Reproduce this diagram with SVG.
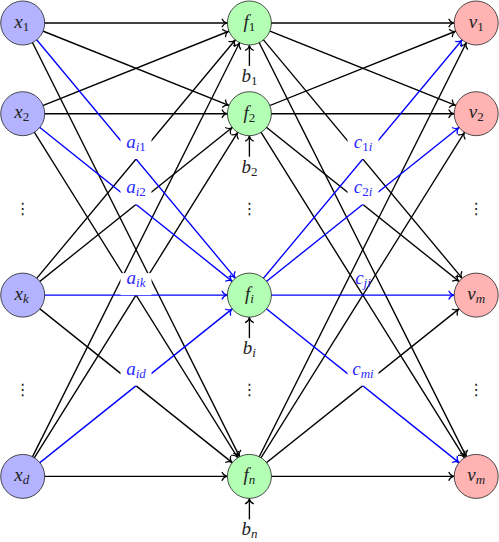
<svg xmlns="http://www.w3.org/2000/svg" width="499" height="542" viewBox="0 0 499 542" font-family="Liberation Serif, serif">
<style>
.e{stroke:#000;stroke-width:1.35;fill:none;marker-end:url(#ak)}
.eb{stroke:#0000ff;stroke-width:1.35;fill:none;marker-end:url(#ab)}
.box{fill:#fff;stroke:none}
.nx{fill:#b3b3ff;stroke:#222;stroke-width:0.8}
.nf{fill:#b3ffb3;stroke:#222;stroke-width:0.8}
.nv{fill:#ffb3b3;stroke:#222;stroke-width:0.8}
text{font-family:'Liberation Serif',serif;font-size:19px;font-style:italic;fill:#222;text-anchor:middle}
.bl{fill:#2a2aff}
.s{font-size:13px}
.n{font-style:normal}
.dots{font-family:'DejaVu Sans',sans-serif;font-style:normal;font-size:16px;fill:#222}
</style>
<defs>
<marker id="ak" markerUnits="userSpaceOnUse" markerWidth="60" markerHeight="20" viewBox="-40 -10 60 20" refX="0" refY="0" orient="auto" overflow="visible">
<path d="M-27.5,-4.3 C-26.3,-1.7 -24.2,-0.3 -22.5,0 C-24.2,0.3 -26.3,1.7 -27.5,4.3" fill="none" stroke="#000" stroke-width="1.2"/>
</marker>
<marker id="ab" markerUnits="userSpaceOnUse" markerWidth="60" markerHeight="20" viewBox="-40 -10 60 20" refX="0" refY="0" orient="auto" overflow="visible">
<path d="M-27.5,-4.3 C-26.3,-1.7 -24.2,-0.3 -22.5,0 C-24.2,0.3 -26.3,1.7 -27.5,4.3" fill="none" stroke="#0000ff" stroke-width="1.2"/>
</marker>
</defs>
<g id="connectors">
<path class="e" d="M22.7,23 L249.4,23"/>
<path class="e" d="M22.7,23 L249.4,113.7"/>
<path class="e" d="M22.7,23 L249.4,476.4"/>
<path class="e" d="M22.7,113.7 L249.4,23"/>
<path class="e" d="M22.7,113.7 L249.4,113.7"/>
<path class="e" d="M22.7,113.7 L249.4,476.4"/>
<path class="e" d="M22.7,295.1 L249.4,23"/>
<path class="e" d="M22.7,295.1 L249.4,113.7"/>
<path class="e" d="M22.7,295.1 L249.4,476.4"/>
<path class="e" d="M22.7,476.4 L249.4,23"/>
<path class="e" d="M22.7,476.4 L249.4,113.7"/>
<path class="e" d="M22.7,476.4 L249.4,476.4"/>
<path class="e" d="M249.4,23 L476.2,23"/>
<path class="e" d="M249.4,23 L476.2,113.7"/>
<path class="e" d="M249.4,23 L476.2,295.1"/>
<path class="e" d="M249.4,23 L476.2,476.4"/>
<path class="e" d="M249.4,113.7 L476.2,23"/>
<path class="e" d="M249.4,113.7 L476.2,113.7"/>
<path class="e" d="M249.4,113.7 L476.2,295.1"/>
<path class="e" d="M249.4,113.7 L476.2,476.4"/>
<path class="e" d="M249.4,476.4 L476.2,23"/>
<path class="e" d="M249.4,476.4 L476.2,113.7"/>
<path class="e" d="M249.4,476.4 L476.2,295.1"/>
<path class="e" d="M249.4,476.4 L476.2,476.4"/>
<path class="eb" d="M22.7,23 L249.4,295.1"/>
<path class="eb" d="M22.7,113.7 L249.4,295.1"/>
<path class="eb" d="M22.7,295.1 L249.4,295.1"/>
<path class="eb" d="M22.7,476.4 L249.4,295.1"/>
<path class="eb" d="M249.4,295.1 L476.2,23"/>
<path class="eb" d="M249.4,295.1 L476.2,113.7"/>
<path class="eb" d="M249.4,295.1 L476.2,295.1"/>
<path class="eb" d="M249.4,295.1 L476.2,476.4"/>
<path class="e" d="M249.4,66 L249.4,23"/>
<path class="e" d="M249.4,156.7 L249.4,113.7"/>
<path class="e" d="M249.4,338.1 L249.4,295.1"/>
<path class="e" d="M249.4,519.4 L249.4,476.4"/>
</g>
<g id="edge-labels">
<g id="l-ai1"><rect class="box" x="120.5" y="137" width="31" height="22"/><text class="bl" x="136" y="148">a<tspan class="s" dy="3">i</tspan><tspan class="s n">1</tspan></text></g>
<g id="l-ai2"><rect class="box" x="120.5" y="182.4" width="31" height="22"/><text class="bl" x="136" y="193.4">a<tspan class="s" dy="3">i</tspan><tspan class="s n">2</tspan></text></g>
<g id="l-aik"><rect class="box" x="120.5" y="273.1" width="31" height="22"/><text class="bl" x="136" y="284.1">a<tspan class="s" dy="3">ik</tspan></text></g>
<g id="l-aid"><rect class="box" x="120.5" y="363.7" width="31" height="22"/><text class="bl" x="136" y="374.7">a<tspan class="s" dy="3">id</tspan></text></g>
<g id="l-c1i"><rect class="box" x="347.5" y="137" width="31" height="22"/><text class="bl" x="363" y="148">c<tspan class="s n" dy="3">1</tspan><tspan class="s">i</tspan></text></g>
<g id="l-c2i"><rect class="box" x="347.5" y="182.4" width="31" height="22"/><text class="bl" x="363" y="193.4">c<tspan class="s n" dy="3">2</tspan><tspan class="s">i</tspan></text></g>
<g id="l-cji"><text class="bl" x="363" y="284.1">c<tspan class="s" dy="3">ji</tspan></text></g>
<g id="l-cmi"><rect class="box" x="347.5" y="363.7" width="31" height="22"/><text class="bl" x="363" y="374.7">c<tspan class="s" dy="3">mi</tspan></text></g>
</g>
<g id="bias">
<text x="249.4" y="82">b<tspan class="s n" dy="3">1</tspan></text>
<text x="249.4" y="172.7">b<tspan class="s n" dy="3">2</tspan></text>
<text x="249.4" y="354.1">b<tspan class="s" dy="3">i</tspan></text>
<text x="249.4" y="535">b<tspan class="s" dy="3">n</tspan></text>
</g>
<g id="dots">
<text class="dots" x="22.7" y="214">⋮</text>
<text class="dots" x="22.7" y="395">⋮</text>
<text class="dots" x="249.4" y="214">⋮</text>
<text class="dots" x="249.4" y="395">⋮</text>
<text class="dots" x="476.2" y="214">⋮</text>
<text class="dots" x="476.2" y="395">⋮</text>
</g>
<g id="x1"><circle class="nx" cx="22.7" cy="23" r="22"/><text x="21.7" y="27.5">x<tspan class="s n" dy="3">1</tspan></text></g>
<g id="x2"><circle class="nx" cx="22.7" cy="113.7" r="22"/><text x="21.7" y="118.2">x<tspan class="s n" dy="3">2</tspan></text></g>
<g id="xk"><circle class="nx" cx="22.7" cy="295.1" r="22"/><text x="21.7" y="299.6">x<tspan class="s" dy="3">k</tspan></text></g>
<g id="xd"><circle class="nx" cx="22.7" cy="476.4" r="22"/><text x="21.7" y="480.9">x<tspan class="s" dy="3">d</tspan></text></g>
<g id="f1"><circle class="nf" cx="249.4" cy="23" r="22"/><text x="249.4" y="28">f<tspan class="s n" dy="3">1</tspan></text></g>
<g id="f2"><circle class="nf" cx="249.4" cy="113.7" r="22"/><text x="249.4" y="118.7">f<tspan class="s n" dy="3">2</tspan></text></g>
<g id="fi"><circle class="nf" cx="249.4" cy="295.1" r="22"/><text x="249.4" y="300.1">f<tspan class="s" dy="3">i</tspan></text></g>
<g id="fn"><circle class="nf" cx="249.4" cy="476.4" r="22"/><text x="249.4" y="481.4">f<tspan class="s" dy="3">n</tspan></text></g>
<g id="v1"><circle class="nv" cx="476.2" cy="23" r="22"/><text x="476.2" y="27.5">v<tspan class="s n" dy="3">1</tspan></text></g>
<g id="v2"><circle class="nv" cx="476.2" cy="113.7" r="22"/><text x="476.2" y="118.2">v<tspan class="s n" dy="3">2</tspan></text></g>
<g id="vm"><circle class="nv" cx="476.2" cy="295.1" r="22"/><text x="476.2" y="299.6">v<tspan class="s" dy="3">m</tspan></text></g>
<g id="vm2"><circle class="nv" cx="476.2" cy="476.4" r="22"/><text x="476.2" y="480.9">v<tspan class="s" dy="3">m</tspan></text></g>
</svg>
